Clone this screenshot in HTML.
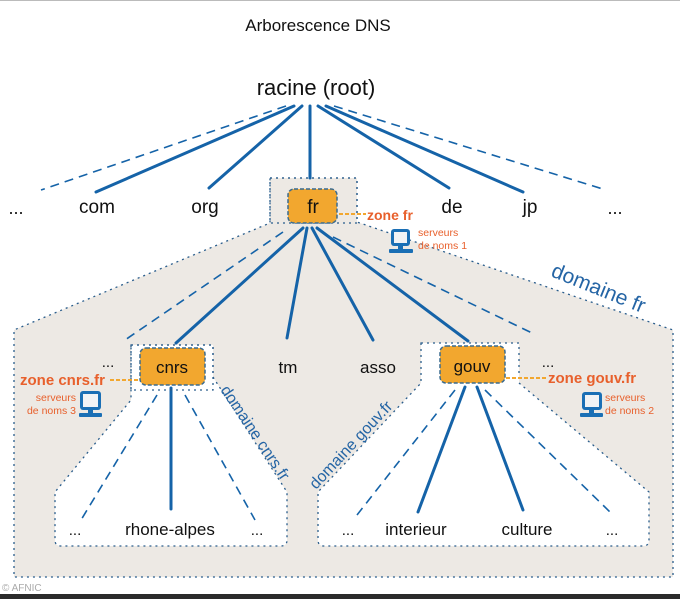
<!DOCTYPE html>
<html><head><meta charset="utf-8"><style>
html,body{margin:0;padding:0;background:#fff;}
svg{display:block;font-family:"Liberation Sans",sans-serif;}
</style></head><body>
<svg width="680" height="599" viewBox="0 0 680 599" xmlns="http://www.w3.org/2000/svg">
<rect width="680" height="599" fill="#fff"/>
<line x1="0" y1="0.5" x2="680" y2="0.5" stroke="#bbb" stroke-width="1"/>
<polygon points="270,178 357,178 357,222 673,330 673,577 14,577 14,330 270,223" fill="#ede9e4" stroke="#2a5d8c" stroke-width="1.3" stroke-dasharray="2,4"/>
<path d="M131,345 L213,345 L213,377 L287,492 L287,540 Q287,546 281,546 L61,546 Q55,546 55,540 L55,492 L131,400 Z" fill="#fff" stroke="#2a5d8c" stroke-width="1.3" stroke-dasharray="2,4"/>
<path d="M421,343 L519,343 L519,383 L649,492 L649,540 Q649,546 643,546 L324,546 Q318,546 318,540 L318,492 L421,383 Z" fill="#fff" stroke="#2a5d8c" stroke-width="1.3" stroke-dasharray="2,4"/>
<g stroke="#1563a8" stroke-width="3" fill="none" stroke-linecap="round">
<line x1="294" y1="106" x2="96" y2="192"/>
<line x1="302" y1="106" x2="209" y2="188"/>
<line x1="310" y1="106" x2="310" y2="178"/>
<line x1="318" y1="106" x2="449" y2="188"/>
<line x1="326" y1="106" x2="523" y2="192"/>
<line x1="303" y1="228" x2="176" y2="343"/>
<line x1="307" y1="228" x2="287" y2="338"/>
<line x1="312" y1="228" x2="373" y2="340"/>
<line x1="317" y1="228" x2="468" y2="341"/>
<line x1="171" y1="388" x2="171" y2="509"/>
<line x1="465" y1="387" x2="418" y2="512"/>
<line x1="477" y1="387" x2="523" y2="510"/>
</g>
<g stroke="#1563a8" stroke-width="1.6" fill="none" stroke-dasharray="9,6">
<line x1="286" y1="106" x2="41" y2="190"/>
<line x1="334" y1="106" x2="606" y2="190"/>
<line x1="283" y1="232" x2="125" y2="340"/>
<line x1="333" y1="237" x2="532" y2="333"/>
<line x1="157" y1="395" x2="81" y2="520"/>
<line x1="185" y1="395" x2="255" y2="520"/>
<line x1="455" y1="390" x2="357" y2="515"/>
<line x1="485" y1="390" x2="610" y2="512"/>
</g>
<rect x="270" y="178" width="87" height="45" fill="none" stroke="#2a5d8c" stroke-width="1.3" stroke-dasharray="2,4"/>
<rect x="288" y="189" width="49" height="34" rx="6" fill="#f2a72f" stroke="#3a6b8f" stroke-width="1.5" stroke-dasharray="4,2"/>
<rect x="131" y="345" width="82" height="45" fill="none" stroke="#2a5d8c" stroke-width="1.3" stroke-dasharray="2,4"/>
<rect x="140" y="348" width="65" height="37" rx="6" fill="#f2a72f" stroke="#3a6b8f" stroke-width="1.5" stroke-dasharray="4,2"/>
<rect x="440" y="346" width="65" height="37" rx="6" fill="#f2a72f" stroke="#3a6b8f" stroke-width="1.5" stroke-dasharray="4,2"/>
<g stroke="#f2a72f" stroke-width="2" stroke-dasharray="4,2">
<line x1="339" y1="214" x2="366" y2="214"/>
<line x1="110" y1="380" x2="140" y2="380"/>
<line x1="506" y1="378" x2="547" y2="378"/>
</g>
<g>
<rect x="391" y="229" width="19" height="17" rx="3" fill="#1a6fb5"/><rect x="394" y="232" width="13" height="11" fill="#f1f3f5"/><rect x="398" y="246" width="5" height="3" fill="#1a6fb5"/><rect x="389" y="249" width="24" height="4" rx="1" fill="#1a6fb5"/>
<rect x="80" y="391" width="21" height="19" rx="3" fill="#1a6fb5"/><rect x="83" y="394" width="15" height="13" fill="#f1f3f5"/><rect x="88" y="410" width="5" height="3" fill="#1a6fb5"/><rect x="79" y="413" width="23" height="4" rx="1" fill="#1a6fb5"/>
<rect x="582" y="392" width="20" height="18" rx="3" fill="#1a6fb5"/><rect x="585" y="395" width="14" height="12" fill="#f1f3f5"/><rect x="589" y="410" width="5" height="3" fill="#1a6fb5"/><rect x="580" y="413" width="23" height="4" rx="1" fill="#1a6fb5"/>
</g>
<g fill="#111" text-anchor="middle">
<text x="318" y="31" font-size="17">Arborescence DNS</text>
<text x="316" y="95" font-size="22">racine (root)</text>
<text x="16" y="214" font-size="18">...</text>
<text x="97" y="213" font-size="19">com</text>
<text x="205" y="213" font-size="19">org</text>
<text x="313" y="213" font-size="19">fr</text>
<text x="452" y="213" font-size="19">de</text>
<text x="530" y="213" font-size="19">jp</text>
<text x="615" y="214" font-size="18">...</text>
<text x="108" y="367" font-size="15">...</text>
<text x="172" y="373" font-size="17">cnrs</text>
<text x="288" y="373" font-size="17">tm</text>
<text x="378" y="373" font-size="17">asso</text>
<text x="472" y="372" font-size="17">gouv</text>
<text x="548" y="367" font-size="15">...</text>
<text x="75" y="535" font-size="15">...</text>
<text x="170" y="535" font-size="17">rhone-alpes</text>
<text x="257" y="535" font-size="15">...</text>
<text x="348" y="535" font-size="15">...</text>
<text x="416" y="535" font-size="17">interieur</text>
<text x="527" y="535" font-size="17">culture</text>
<text x="612" y="535" font-size="15">...</text>
</g>
<g fill="#e8602c" font-weight="bold">
<text x="367" y="220" font-size="14">zone fr</text>
<text x="20" y="385" font-size="15">zone cnrs.fr</text>
<text x="548" y="383" font-size="15">zone gouv.fr</text>
<g font-size="10.5" font-weight="normal">
<text x="418" y="236">serveurs</text><text x="418" y="249">de noms 1</text>
<text x="76" y="401" text-anchor="end">serveurs</text><text x="76" y="414" text-anchor="end">de noms 3</text>
<text x="605" y="401">serveurs</text><text x="605" y="414">de noms 2</text>
</g>
</g>
<g fill="#2565a5">
<text x="0" y="0" font-size="21" transform="translate(550,276) rotate(22)">domaine fr</text>
<text x="0" y="0" font-size="16" transform="translate(220,390) rotate(56)">domaine cnrs.fr</text>
<text x="0" y="0" font-size="16" transform="translate(316,490) rotate(-47)">domaine gouv.fr</text>
</g>
<text x="2" y="591" font-size="10" fill="#aaa">© AFNIC</text>
<rect x="0" y="594" width="680" height="5" fill="#2b2b2b"/>
</svg>
</body></html>
